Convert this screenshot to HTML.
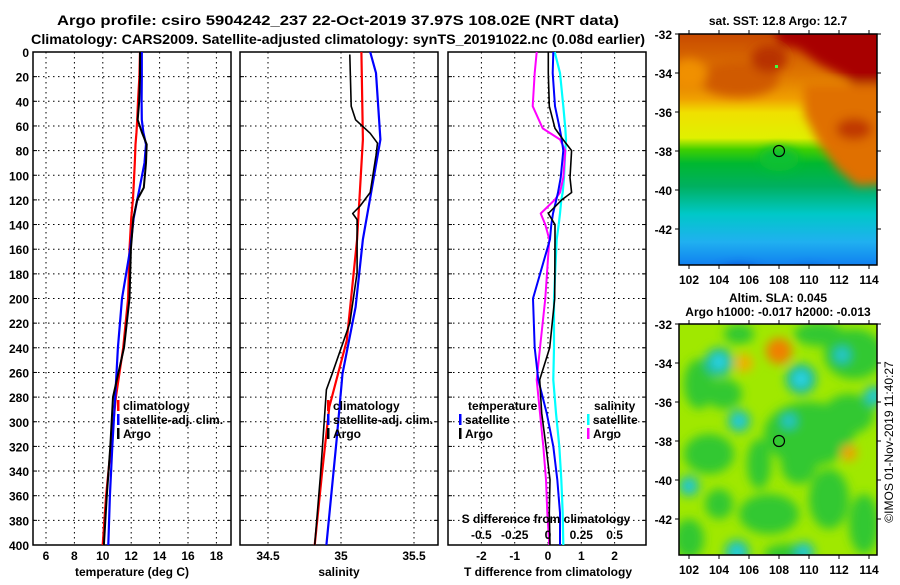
<!DOCTYPE html>
<html><head><meta charset="utf-8"><style>
html,body{margin:0;padding:0;background:#fff;}
svg text{font-family:"Liberation Sans",sans-serif;font-weight:bold;fill:#000;}
svg text.normal{font-weight:normal;}
</style></head><body>
<svg id="fig" xmlns="http://www.w3.org/2000/svg" width="900" height="580" viewBox="0 0 900 580">
<defs>
<linearGradient id="sstg" x1="0" y1="0" x2="0" y2="1">
<stop offset="0" stop-color="#c84a00"/><stop offset="0.18" stop-color="#e07800"/><stop offset="0.28" stop-color="#f0a000"/><stop offset="0.34" stop-color="#f0e000"/><stop offset="0.45" stop-color="#e0f000"/><stop offset="0.5" stop-color="#40d000"/><stop offset="0.56" stop-color="#00b830"/><stop offset="0.66" stop-color="#00b060"/><stop offset="0.78" stop-color="#00c8c8"/><stop offset="0.9" stop-color="#20b0f0"/><stop offset="1" stop-color="#1080f0"/>
</linearGradient>
<filter id="blur" x="-20%" y="-20%" width="140%" height="140%"><feGaussianBlur stdDeviation="5"/></filter>
<clipPath id="clipTop"><rect x="0" y="0" width="198" height="231"/></clipPath>
<clipPath id="clipBot"><rect x="0" y="0" width="198" height="231"/></clipPath>
</defs>
<text x="338" y="25" font-size="14" text-anchor="middle" textLength="562" lengthAdjust="spacingAndGlyphs">Argo profile: csiro 5904242_237 22-Oct-2019 37.97S 108.02E (NRT data)</text>
<text x="338" y="44" font-size="14" text-anchor="middle" textLength="614" lengthAdjust="spacingAndGlyphs">Climatology: CARS2009. Satellite-adjusted climatology: synTS_20191022.nc (0.08d earlier)</text>
<g id="plots"></g>
<g id="maps"></g>
</svg>
<script>
// ---- data ----
const tDepth = [0,20,40,55,65,75,90,110,120,135,160,200,240,280,320,360,400];
const tClim = [12.62,12.58,12.48,12.42,12.37,12.3,12.25,12.17,12.12,12.0,11.88,11.78,11.44,10.92,10.57,10.23,9.99];
const tSat  = [12.75,12.75,12.73,12.75,12.85,13.04,12.94,12.6,12.42,12.17,11.93,11.35,11.06,10.87,10.67,10.5,10.39];
const tArgo = [12.62,12.62,12.56,12.46,12.75,13.09,13.04,12.89,12.42,12.15,11.98,11.88,11.49,10.72,10.53,10.28,10.08];

const sClimDepth = [0,71,152,234,288,342,400];
const sClim = [35.14,35.15,35.11,35.04,34.92,34.87,34.82];
const sSatDepth = [0,17,71,98,152,207,261,315,400];
const sSat = [35.2,35.24,35.27,35.23,35.15,35.1,35.01,34.97,34.9];
const sArgoDepth = [2,44,55,66,74,84,114,125,131,136,179,220,261,274,342,400];
const sArgo = [35.06,35.07,35.1,35.2,35.25,35.24,35.2,35.13,35.08,35.11,35.11,35.06,34.94,34.9,34.86,34.82];

const dDepth = [0,17,44,62,71,80,102,114,120,131,140,152,200,240,266,293,320,347,374,400];
const dTSat  = [0.16,0.14,0.21,0.35,0.41,0.46,0.38,0.3,0.25,0.15,0.1,0.06,-0.45,-0.4,-0.29,-0.04,0.16,0.28,0.36,0.36];
const dTArgo = [0.01,0.01,0.04,0.21,0.45,0.71,0.66,0.71,0.41,0.01,0.21,0.21,0.2,0.05,-0.25,-0.19,-0.06,0.06,0.04,0.06];
const dSSat  = [0.05,0.09,0.115,0.13,0.135,0.13,0.12,0.11,0.1,0.09,0.08,0.065,0.045,0.045,0.04,0.06,0.085,0.1,0.11,0.115];
const dSArgo = [-0.085,-0.1,-0.115,-0.04,0.09,0.13,0.115,0.09,0.05,-0.055,-0.02,0.01,-0.02,-0.06,-0.085,-0.06,-0.035,-0.015,-0.005,0.01];

const depthTicks = [0,20,40,60,80,100,120,140,160,180,200,220,240,260,280,300,320,340,360,380,400];
const tTicks = [6,8,10,12,14,16,18];
const sTicks = [34.5,35,35.5];
const tdTicks = [-2,-1,0,1,2];
const sdTicks = [-0.5,-0.25,0,0.25,0.5];
const sdTickLabels = ['-0.5','-0.25','0','0.25','0.5'];
const latTicks = [-32,-34,-36,-38,-40,-42];
const lonTicks = [102,104,106,108,110,112,114];

// ---- helpers ----
const NS = 'http://www.w3.org/2000/svg';
function mk(tag, attrs, parent){const e=document.createElementNS(NS,tag);for(const k in attrs)e.setAttribute(k,attrs[k]);if(parent)parent.appendChild(e);return e;}
function txt(str, attrs, parent){const e=mk('text',attrs,parent);e.textContent=str;return e;}
const Y0=52, Y1=545;
const yD = d => Y0 + d*(Y1-Y0)/400;
const plots = document.getElementById('plots');
const panels = [
 {name:'temperature-panel', x0:33, x1:231, sx:v=>46+(v-6)*14.2},
 {name:'salinity-panel', x0:240, x1:438, sx:v=>341+(v-35)*146},
 {name:'difference-panel', x0:448, x1:646, sx:v=>548+v*33.3}
];
const sdx = v => 548 + v*133.2;

panels.forEach((p,i)=>{
  const g = mk('g',{},plots);
  
  
  depthTicks.forEach(d=>{
    if(d>0 && d<400){const l=mk('line',{x1:p.x0,x2:p.x1,y1:yD(d),y2:yD(d),stroke:'#000','stroke-width':1,'stroke-dasharray':'1.5,3.5'},g);
      
      }
    mk('line',{x1:p.x0,x2:p.x0+4,y1:yD(d),y2:yD(d),stroke:'#000'},g);
    mk('line',{x1:p.x1-4,x2:p.x1,y1:yD(d),y2:yD(d),stroke:'#000'},g);
  });
  const ticks = i===0?tTicks:(i===1?sTicks:tdTicks);
  ticks.forEach(t=>{
    const x=p.sx(t);
    const l=mk('line',{x1:x,x2:x,y1:Y0,y2:Y1,stroke:'#000','stroke-width':1,'stroke-dasharray':'1.5,3.5'},g);
    
    
    const lab=txt(String(t),{x:x,y:560,'font-size':12,'text-anchor':'middle'},g);
    
    
  });
  const fr=mk('rect',{x:p.x0,y:Y0,width:p.x1-p.x0,height:Y1-Y0,fill:'none',stroke:'#000','stroke-width':1.5},g);
  
  
});
depthTicks.forEach(d=>{
  const t=txt(String(d),{x:29,y:yD(d)+5,'font-size':12,'text-anchor':'end'},plots);
  
  
});
function series(depths, vals, sx, color, w, name){
  const pts = depths.map((d,k)=>sx(vals[k]).toFixed(1)+','+yD(d).toFixed(1)).join(' ');
  const pl = mk('polyline',{points:pts,fill:'none',stroke:color,'stroke-width':w,'stroke-linejoin':'round'},plots);
  
  
}
const P=panels;
series(tDepth,tClim,P[0].sx,'#ff0000',2.2,'temp-climatology-line');
series(tDepth,tSat,P[0].sx,'#0000ff',2.2,'temp-satellite-line');
series(tDepth,tArgo,P[0].sx,'#000000',2,'temp-argo-line');
series(sClimDepth,sClim,P[1].sx,'#ff0000',2.2,'sal-climatology-line');
series(sSatDepth,sSat,P[1].sx,'#0000ff',2.2,'sal-satellite-line');
series(sArgoDepth,sArgo,P[1].sx,'#000000',1.6,'sal-argo-line');
series(dDepth,dSSat,sdx,'#00ffff',2.2,'sdiff-satellite-line');
series(dDepth,dSArgo,sdx,'#ff00ff',2,'sdiff-argo-line');
series(dDepth,dTSat,P[2].sx,'#0000ff',2,'tdiff-satellite-line');
series(dDepth,dTArgo,P[2].sx,'#000000',1.6,'tdiff-argo-line');

function legend(x,y,color,label,name){
  const g=mk('g',{},plots);
  
  
  if(color) mk('rect',{x:x,y:y-10,width:2.5,height:11,fill:color},g);
  txt(label,{x:x+6,y:y,'font-size':12},g);
}
legend(117,410,'#ff0000','climatology','legend-climatology');
legend(117,424,'#0000ff','satellite-adj. clim.','legend-satellite');
legend(117,438,'#000000','Argo','legend-argo');
legend(327,410,'#ff0000','climatology','legend-climatology-sal');
legend(327,424,'#0000ff','satellite-adj. clim.','legend-satellite-sal');
legend(327,438,'#000000','Argo','legend-argo-sal');
legend(462,410,null,'temperature','legend-temperature-heading');
legend(459,424,'#0000ff','satellite','legend-tdiff-satellite');
legend(459,438,'#000000','Argo','legend-tdiff-argo');
legend(588,410,null,'salinity','legend-salinity-heading');
legend(587,424,'#00ffff','satellite','legend-sdiff-satellite');
legend(587,438,'#ff00ff','Argo','legend-sdiff-argo');

const sdt=txt('S difference from climatology',{x:546,y:523,'font-size':12,'text-anchor':'middle'},plots);


sdTicks.forEach((v,k)=>{
  const t=txt(sdTickLabels[k],{x:sdx(v),y:539,'font-size':12,'text-anchor':'middle'},plots);
  
  
});
[['temperature (deg C)',132,'temperature-axis-title'],['salinity',339,'salinity-axis-title'],['T difference from climatology',548,'t-difference-axis-title']].forEach(a=>{
  const t=txt(a[0],{x:a[1],y:576,'font-size':12,'text-anchor':'middle'},plots);
  
  
});

// ---- maps ----
const maps=document.getElementById('maps');
const MX0=679, MW=198, MH=231;
const lonX = lon => 10 + (lon-102)*15;
const latY = lat => (-32-lat)*19.5;
function mapFrame(y0, name){
  const g=mk('g',{transform:'translate('+MX0+','+y0+')'},maps);
  
  
  return g;
}
function mapAxes(g){
  mk('rect',{x:0,y:0,width:MW,height:MH,fill:'none',stroke:'#000','stroke-width':1.5},g);
  latTicks.forEach(l=>{
    const y=latY(l);
    mk('line',{x1:-4,x2:0,y1:y,y2:y,stroke:'#000'},g);
    mk('line',{x1:MW,x2:MW+4,y1:y,y2:y,stroke:'#000'},g);
    const t=txt(String(l),{x:-7,y:y+5,'font-size':12,'text-anchor':'end'},g);
    
    
  });
  lonTicks.forEach(l=>{
    const x=lonX(l);
    mk('line',{x1:x,x2:x,y1:-4,y2:0,stroke:'#000'},g);
    mk('line',{x1:x,x2:x,y1:MH,y2:MH+4,stroke:'#000'},g);
    const t=txt(String(l),{x:x,y:MH+19,'font-size':12,'text-anchor':'middle'},g);
    
    
  });
  const c=mk('circle',{cx:lonX(108),cy:latY(-38),r:5.5,fill:'none',stroke:'#000','stroke-width':1.2},g);
  
  
}
const g1=mapFrame(34,'sst-map');
const sst=mk('g',{'clip-path':'url(#clipTop)'},g1);
mk('rect',{x:0,y:0,width:MW,height:MH,fill:'url(#sstg)'},sst);
const sb=mk('g',{filter:'url(#blur)'},sst);
mk('polygon',{points:'95,-10 210,-10 210,60 185,65 170,45 140,30 120,15 100,10',fill:'#a80000'},sb);
mk('polygon',{points:'125,50 210,50 210,150 178,152 158,135 140,110 125,80',fill:'#e07000'},sb);
mk('ellipse',{cx:175,cy:95,rx:18,ry:11,fill:'#c03800'},sb);
mk('ellipse',{cx:60,cy:45,rx:40,ry:18,fill:'#d05a00'},sb);
mk('ellipse',{cx:90,cy:25,rx:18,ry:14,fill:'#b83000'},sb);
mk('ellipse',{cx:10,cy:40,rx:18,ry:15,fill:'#f09000'},sb);
mk('ellipse',{cx:100,cy:125,rx:20,ry:12,fill:'#10c030'},sb);
mk('ellipse',{cx:60,cy:240,rx:20,ry:8,fill:'#0040d0'},sb);
mk('ellipse',{cx:130,cy:240,rx:16,ry:6,fill:'#0050d0'},sb);
mk('rect',{x:96,y:31,width:3,height:3,fill:'#40ff40'},sst);
mapAxes(g1);
const st=txt('sat. SST: 12.8 Argo: 12.7',{x:778,y:25,'font-size':12,'text-anchor':'middle'},maps);



const g2=mapFrame(324,'sla-map');
const sla=mk('g',{'clip-path':'url(#clipBot)'},g2);
mk('rect',{x:0,y:0,width:MW,height:MH,fill:'#a0e800'},sla);
const bb=mk('g',{filter:'url(#blur)'},sla);
[[130,110,45,32],[175,30,30,25],[30,130,25,20],[90,190,30,20],[150,175,20,30],[20,60,15,25],[185,200,15,30],[45,70,18,15],[120,140,18,20],[10,215,15,20],[170,90,25,20],[80,140,12,25],[40,180,14,15],[140,10,25,12],[60,10,15,10],[110,230,25,10]].forEach(e=>{
  mk('ellipse',{cx:e[0],cy:e[1],rx:e[2],ry:e[3],fill:'#30c830'},bb);
});
[[40,38,14],[122,55,15],[60,97,11],[195,72,10],[10,162,10],[58,228,12],[125,228,10],[163,31,9],[110,97,8]].forEach(c=>{
  mk('circle',{cx:c[0],cy:c[1],r:c[2],fill:'#10b8a8'},bb);
  mk('circle',{cx:c[0],cy:c[1],r:c[2]*0.5,fill:'#30d8e8'},bb);
});
[[100,27,13,'#f08000'],[65,39,9,'#f0b000'],[170,129,8,'#f0a000']].forEach(c=>{
  mk('circle',{cx:c[0],cy:c[1],r:c[2],fill:c[3]},bb);
});
mapAxes(g2);
const s1=txt('Altim. SLA: 0.045',{x:778,y:302,'font-size':12,'text-anchor':'middle'},maps);


const s2=txt('Argo h1000: -0.017 h2000: -0.013',{x:778,y:316,'font-size':12,'text-anchor':'middle'},maps);


const cr=txt('©IMOS 01-Nov-2019 11:40:27',{x:0,y:0,'font-size':12,'class':'normal','text-anchor':'middle',transform:'translate(893,442) rotate(-90)'},maps);


</script>
</body></html>
